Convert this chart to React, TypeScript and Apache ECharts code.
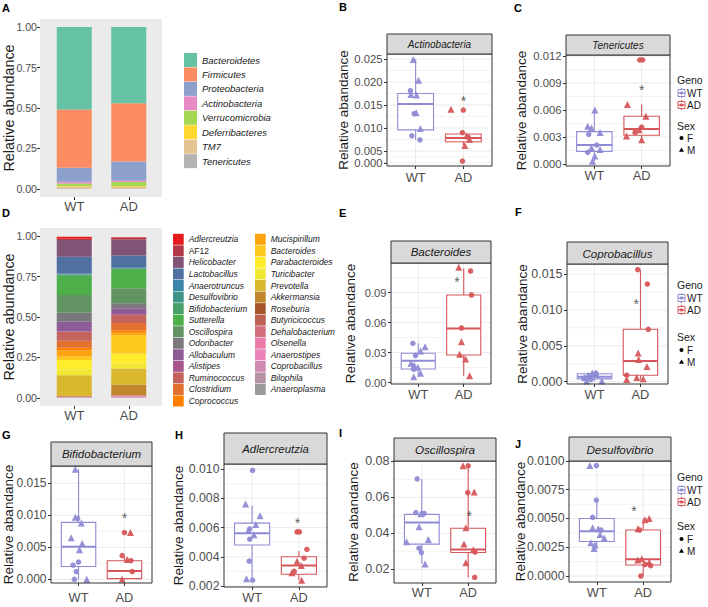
import { useEffect, useRef } from 'react';
import * as echarts from 'echarts';

const FONT = 'Liberation Sans, Arial, Helvetica, sans-serif';
const WT_COLOR = '#8E8BD5';
const AD_COLOR = '#D6565A';
const F = 0;
const M = 1;

const GROUPS = ['WT', 'AD'];
const STACK_TICKS = [0, 0.25, 0.5, 0.75, 1];

// ---------- A : phyla ----------
const PHYLA = ['Bacteroidetes', 'Firmicutes', 'Proteobacteria', 'Actinobacteria', 'Verrucomicrobia', 'Deferribacteres', 'TM7', 'Tenericutes'];
const PHYLA_WT = [0.51, 0.36, 0.085, 0.012, 0.015, 0.003, 0.012, 0.003];
const PHYLA_AD = [0.47, 0.36, 0.118, 0.01, 0.025, 0.005, 0.009, 0.003];
const PHYLA_COLORS = ['#66C2A5', '#FC8D62', '#8DA0CB', '#E78AC3', '#A6D854', '#FFD92F', '#E5C494', '#B3B3B3'];

// ---------- D : genera ----------
const GENERA = ['Adlercreutzia', 'AF12', 'Helicobacter', 'Lactobacillus', 'Anaerotruncus', 'Desulfovibrio', 'Bifidobacterium', 'Sutterella', 'Oscillospira', 'Odoribacter', 'Allobaculum', 'Alistipes', 'Ruminococcus', 'Clostridium', 'Coprococcus', 'Mucispirillum', 'Bacteroides', 'Parabacteroides', 'Turicibacter', 'Prevotella', 'Akkermansia', 'Roseburia', 'Butyricicoccus', 'Dehalobacterium', 'Olsenella', 'Anaerostipes', 'Coprobacillus', 'Bilophila', 'Anaeroplasma'];
const GENUS_WT = [0.012, 0.008, 0.103, 0.104, 0.004, 0.004, 0.006, 0.118, 0.110, 0.056, 0.058, 0.004, 0.056, 0.042, 0.016, 0.038, 0.022, 0.058, 0.037, 0.128, 0.002, 0.001, 0.001, 0.001, 0.003, 0.001, 0.0006, 0.001, 0.001];
const GENUS_AD = [0.004, 0.010, 0.099, 0.076, 0.004, 0.002, 0.002, 0.118, 0.093, 0.031, 0.037, 0.004, 0.050, 0.045, 0.016, 0.015, 0.113, 0.062, 0.031, 0.099, 0.066, 0.001, 0.001, 0.002, 0.003, 0.002, 0.004, 0.002, 0.001];
const GENUS_COLORS = ['#E41A1C', '#B33749', '#815375', '#5070A2', '#3A85A8', '#409389', '#47A169', '#4DAF4A', '#629363', '#78787D', '#8D5C96', '#A7558C', '#C4635D', '#E2712F', '#FF7F00', '#FFA40F', '#FFC81D', '#FFED2C', '#F2E731', '#D9B72E', '#BF862B', '#A65628', '#BD6253', '#D46F7E', '#EB7BA9', '#EA84BA', '#CF8BAF', '#B492A4', '#999999'];

// ---------- B : Actinobacteria ----------
const B_TICKS = [0, 0.005, 0.01, 0.015, 0.02, 0.025];
const B_WT = [[0.95, 0.0249, M], [1.06, 0.0204, M], [0.89, 0.0181, F], [0.90, 0.0173, M], [1.02, 0.0172, M], [1.01, 0.0133, M], [0.97, 0.0131, F], [1.10, 0.0099, M], [0.92, 0.0083, F], [1.09, 0.0074, F]];
const B_AD = [[1.74, 0.0141, M], [2.00, 0.0139, F], [1.98, 0.0090, F], [2.07, 0.0083, M], [2.13, 0.0075, M], [2.10, 0.0080, F], [2.03, 0.0062, M], [1.98, 0.0008, F]];
const B_BOX_WT = [0.0074, 0.0096, 0.0152, 0.0175, 0.0249];
const B_BOX_AD = [0.0062, 0.0070, 0.0078, 0.0087, 0.0090];
const B_STAR = [2.0, 0.0165];

// ---------- C : Tenericutes ----------
const C_TICKS = [0, 0.003, 0.006, 0.009, 0.012];
const C_WT = [[1.01, 0.0060, M], [0.86, 0.0042, M], [0.94, 0.0040, M], [1.12, 0.0035, M], [0.88, 0.0033, F], [1.05, 0.0021, F], [0.94, 0.0018, M], [1.12, 0.0016, M], [0.86, 0.0013, F], [1.01, 0.0009, M], [0.96, 0.0003, M]];
const C_AD = [[1.96, 0.01156, F], [2.02, 0.01156, F], [1.70, 0.0066, M], [2.09, 0.0053, M], [2.00, 0.0041, F], [1.95, 0.0038, M], [1.86, 0.0035, F], [1.68, 0.0031, M], [2.00, 0.0027, M]];
const C_BOX_WT = [0.0003, 0.0014, 0.0021, 0.0036, 0.0060];
const C_BOX_AD = [0.0027, 0.0032, 0.0039, 0.0053, 0.0066];
const C_STAR = [2.0, 0.0085];

// ---------- E : Bacteroides ----------
const E_TICKS = [0, 0.03, 0.06, 0.09];
const E_WT = [[0.88, 0.0392, F], [1.15, 0.0358, M], [1.05, 0.0315, M], [0.94, 0.0270, F], [0.84, 0.0192, M], [0.91, 0.0172, M], [0.99, 0.0152, M], [0.90, 0.0132, F], [1.05, 0.0092, M], [0.90, 0.0058, M]];
const E_AD = [[1.89, 0.1152, M], [2.15, 0.1115, F], [2.17, 0.0875, F], [1.95, 0.0545, F], [1.95, 0.0408, M], [1.91, 0.0282, M], [2.04, 0.0235, M], [2.13, 0.0068, M]];
const E_BOX_WT = [0.0058, 0.0135, 0.0218, 0.0292, 0.0392];
const E_BOX_AD = [0.0068, 0.0275, 0.0540, 0.0875, 0.1142];
const E_STAR = [1.85, 0.1035];

// ---------- F : Coprobacillus ----------
const F_TICKS = [0, 0.005, 0.01, 0.015];
const F_WT = [[0.95, 0.0012, M], [1.03, 0.0012, F], [0.86, 0.0009, M], [1.05, 0.0010, M], [0.90, 0.0008, F], [0.79, 0.0006, M], [0.92, 0.0003, F], [0.83, 0.0001, M], [1.16, 0.0001, M], [0.77, 0.0005, F]];
const F_AD = [[1.94, 0.0156, F], [2.15, 0.0136, F], [2.17, 0.0073, F], [1.95, 0.0040, M], [1.96, 0.0031, M], [2.14, 0.0021, M], [1.70, 0.0009, F], [1.92, 0.0006, M], [1.70, 0.0003, M], [2.06, 0.0004, M]];
const F_BOX_WT = [0.0001, 0.0004, 0.0007, 0.0011, 0.0012];
const F_BOX_AD = [0.0003, 0.0009, 0.0029, 0.0073, 0.0156];
const F_STAR = [1.91, 0.0112];

// ---------- G : Bifidobacterium ----------
const G_TICKS = [0, 0.005, 0.01, 0.015];
const G_WT = [[0.93, 0.0172, M], [0.93, 0.0097, M], [0.98, 0.0095, F], [1.06, 0.0088, M], [0.84, 0.0065, M], [1.08, 0.0056, M], [1.02, 0.0046, M], [1.00, 0.0027, F], [0.88, 0.0022, F], [0.95, 0.0012, F], [0.91, 0.0000, F], [1.18, 0.0000, M]];
const G_AD = [[2.00, 0.0073, F], [2.13, 0.0073, M], [1.95, 0.0037, F], [2.06, 0.0031, M], [2.14, 0.0029, F], [2.17, 0.0012, F], [1.95, 0.0000, M]];
const G_BOX_WT = [0.0, 0.0020, 0.0051, 0.0089, 0.0172];
const G_BOX_AD = [0.0, 0.0001, 0.0013, 0.0029, 0.0037];
const G_STAR = [2.0, 0.0100];

// ---------- H : Adlercreutzia ----------
const H_TICKS = [0.002, 0.004, 0.006, 0.008, 0.010];
const H_WT = [[1.01, 0.0099, F], [0.86, 0.0076, M], [1.17, 0.0068, M], [1.08, 0.0062, M], [0.95, 0.0059, F], [0.92, 0.0058, M], [1.04, 0.0055, M], [0.95, 0.0052, F], [0.94, 0.0037, F], [0.88, 0.0025, M], [1.01, 0.0024, F]];
const H_AD = [[1.96, 0.0057, F], [2.01, 0.0057, F], [2.17, 0.0045, F], [1.96, 0.0037, M], [2.11, 0.0039, F], [2.05, 0.0034, M], [1.90, 0.0030, F], [1.85, 0.0029, M], [2.06, 0.0024, M]];
const H_BOX_WT = [0.0024, 0.0048, 0.0056, 0.0063, 0.0075];
const H_BOX_AD = [0.0024, 0.0028, 0.0034, 0.0040, 0.0044];
const H_STAR = [1.97, 0.0065];

// ---------- I : Oscillospira ----------
const I_TICKS = [0.02, 0.04, 0.06, 0.08];
const I_WT = [[0.90, 0.0702, F], [0.87, 0.0515, F], [0.98, 0.0509, M], [1.05, 0.0510, F], [0.94, 0.0437, M], [0.67, 0.0353, M], [1.14, 0.0366, M], [0.94, 0.0317, F], [0.99, 0.0293, F], [1.07, 0.0229, M]];
const I_AD = [[1.89, 0.0775, M], [2.00, 0.0775, F], [1.99, 0.0626, F], [2.13, 0.0630, M], [1.95, 0.0431, M], [1.91, 0.0341, M], [2.11, 0.0308, M], [2.15, 0.0296, F], [1.95, 0.0237, M], [2.14, 0.0155, F]];
const I_BOX_WT = [0.0229, 0.0340, 0.0460, 0.0505, 0.0702];
const I_BOX_AD = [0.0155, 0.0293, 0.0310, 0.0428, 0.0775];
const I_STAR = [2.02, 0.0515];

// ---------- J : Desulfovibrio ----------
const J_TICKS = [0, 0.0025, 0.005, 0.0075, 0.01];
const J_WT = [[0.85, 0.0096, M], [0.99, 0.0096, F], [0.99, 0.0066, F], [0.91, 0.0051, F], [0.91, 0.0042, M], [1.03, 0.0041, M], [1.09, 0.0040, F], [1.07, 0.0036, M], [1.16, 0.0033, M], [0.87, 0.0029, M], [0.96, 0.0027, M], [0.94, 0.0024, M]];
const J_AD = [[2.04, 0.0049, M], [2.13, 0.0050, M], [1.89, 0.0041, M], [1.92, 0.0040, F], [1.97, 0.0015, M], [2.13, 0.0012, M], [1.88, 0.0014, M], [2.16, 0.0009, F], [2.04, 0.0010, F], [1.95, 0.0000, F]];
const J_BOX_WT = [0.0024, 0.0030, 0.0039, 0.0050, 0.0066];
const J_BOX_AD = [0.0, 0.00095, 0.00145, 0.0040, 0.0050];
const J_STAR = [1.80, 0.0059];

// Axis transform for panel B (bottom segment compressed as in the reference)
const B_SQUEEZE = 12 / 23;
const bFwd = (v: number) => (v >= 0.005 ? v : 0.005 - (0.005 - v) * B_SQUEEZE);
const bInv = (t: number) => (t >= 0.005 ? t : 0.005 - (0.005 - t) / B_SQUEEZE);
const ident = (v: number) => v;

const PANELS: any[] = [
  { letter: 'B', lx: 339, ly: 7, rect: [387, 54, 105, 112], stripTop: 34, title: 'Actinobacteria', titleSize: 10, yTitleX: 343, tickFont: 11.3, xMargin: 5, yMin: 0.001739, yMax: 0.026087, ticks: B_TICKS, dec: 3, wt: B_WT, ad: B_AD, boxWt: B_BOX_WT, boxAd: B_BOX_AD, star: B_STAR, fwd: bFwd, inv: bInv },
  { letter: 'C', lx: 514, ly: 7.5, rect: [566, 55, 104, 111], stripTop: 35, title: 'Tenericutes', titleSize: 10, yTitleX: 521.7, tickFont: 11.3, xMargin: 3, yMin: -0.000222, yMax: 0.012111, ticks: C_TICKS, dec: 3, wt: C_WT, ad: C_AD, boxWt: C_BOX_WT, boxAd: C_BOX_AD, star: C_STAR, legend: [80, 93, 105, 126, 138, 150] },
  { letter: 'E', lx: 339, ly: 213, rect: [391, 263, 100, 121], stripTop: 241, title: 'Bacteroides', titleSize: 11.5, yTitleX: 350, tickFont: 11.2, xMargin: 4, yMin: -0.0015, yMax: 0.1195, ticks: E_TICKS, dec: 2, wt: E_WT, ad: E_AD, boxWt: E_BOX_WT, boxAd: E_BOX_AD, star: E_STAR },
  { letter: 'F', lx: 515, ly: 212, rect: [567, 264, 101, 120], stripTop: 242, title: 'Coprobacillus', titleSize: 11.6, yTitleX: 522, tickFont: 12.5, xMargin: 4, yMin: -0.00032, yMax: 0.016393, ticks: F_TICKS, dec: 3, wt: F_WT, ad: F_AD, boxWt: F_BOX_WT, boxAd: F_BOX_AD, star: F_STAR, legend: [285, 298, 310, 337, 350, 362] },
  { letter: 'G', lx: 2, ly: 435, rect: [51, 466, 101, 117], stripTop: 442, title: 'Bifidobacterium', titleSize: 11.5, yTitleX: 8.5, tickFont: 12, xMargin: 8, yMin: -0.000578, yMax: 0.0177, ticks: G_TICKS, dec: 3, wt: G_WT, ad: G_AD, boxWt: G_BOX_WT, boxAd: G_BOX_AD, star: G_STAR },
  { letter: 'H', lx: 175, ly: 435, rect: [224, 464, 103, 123], stripTop: 433, title: 'Adlercreutzia', titleSize: 11.4, yTitleX: 178, tickFont: 12.3, xMargin: 3.5, yMin: 0.001932, yMax: 0.010342, ticks: H_TICKS, dec: 3, wt: H_WT, ad: H_AD, boxWt: H_BOX_WT, boxAd: H_BOX_AD, star: H_STAR },
  { letter: 'I', lx: 339, ly: 433, rect: [394, 461, 102, 122], stripTop: 438, title: 'Oscillospira', titleSize: 11.6, yTitleX: 353.3, tickFont: 12.5, xMargin: 3, yMin: 0.012389, yMax: 0.080167, ticks: I_TICKS, dec: 2, wt: I_WT, ad: I_AD, boxWt: I_BOX_WT, boxAd: I_BOX_AD, star: I_STAR },
  { letter: 'J', lx: 515, ly: 444, rect: [569, 461, 102, 121], stripTop: 437, title: 'Desulfovibrio', titleSize: 11.6, yTitleX: 520, tickFont: 12.3, xMargin: 4, yMin: -0.000522, yMax: 0.01, ticks: J_TICKS, dec: 4, wt: J_WT, ad: J_AD, boxWt: J_BOX_WT, boxAd: J_BOX_AD, star: J_STAR, legend: [477, 490, 502, 526, 539, 551] },
];

const txt = (t: string, x: number, y: number, size: number, extra: any = {}) => ({
  type: 'text', x, y, z: 20,
  style: { text: t, fontSize: size, fontFamily: FONT, fill: '#1a1a1a', align: 'left', verticalAlign: 'middle', ...extra },
});

function genoLegend(x: number, ys: number[]) {
  const [gy, wy, ay, sy, fy, my] = ys;
  const els: any[] = [];
  els.push(txt('Geno', x, gy, 10.5));
  ([[wy, WT_COLOR, 'WT'], [ay, AD_COLOR, 'AD']] as any[]).forEach(([yy, c, label]) => {
    els.push({ type: 'line', z: 20, shape: { x1: x + 4.5, y1: yy - 5, x2: x + 4.5, y2: yy + 5 }, style: { stroke: c, lineWidth: 1 } });
    els.push({ type: 'rect', z: 21, shape: { x: x + 1, y: yy - 3.5, width: 7, height: 7 }, style: { fill: '#fff', stroke: c, lineWidth: 1 } });
    els.push({ type: 'line', z: 22, shape: { x1: x + 1, y1: yy, x2: x + 8, y2: yy }, style: { stroke: c, lineWidth: 1.2 } });
    els.push({ type: 'circle', z: 23, shape: { cx: x + 4.5, cy: yy, r: 1.6 }, style: { fill: c } });
    els.push(txt(label, x + 10, yy, 10));
  });
  els.push(txt('Sex', x, sy, 10.5));
  els.push({ type: 'circle', z: 20, shape: { cx: x + 4.5, cy: fy, r: 2 }, style: { fill: '#000' } });
  els.push(txt('F', x + 10, fy, 10));
  els.push({ type: 'polygon', z: 20, shape: { points: [[x + 4.5, my - 2.6], [x + 7, my + 1.8], [x + 2, my + 1.8]] }, style: { fill: '#000' } });
  els.push(txt('M', x + 10, my, 10));
  return els;
}

function buildOption() {
  const grid: any[] = [];
  const xAxis: any[] = [];
  const yAxis: any[] = [];
  const series: any[] = [];
  const graphic: any[] = [];

  // ----- stacked panels A (grid 0) and D (grid 1) -----
  const stackPanels = [
    { top: 19, letter: 'A', ly: 8 },
    { top: 228, letter: 'D', ly: 213 },
  ];
  stackPanels.forEach((p, gi) => {
    grid.push({ left: 47, top: p.top, width: 109, height: 178, show: false, containLabel: false, outerBoundsMode: 'none' });
    xAxis.push({
      type: 'category', gridIndex: gi, data: GROUPS, position: 'bottom',
      axisLine: { show: false, onZero: false },
      axisTick: { show: true, alignWithLabel: true, length: 3, lineStyle: { color: '#333' } },
      axisLabel: { fontSize: 13, color: '#4D4D4D', margin: 3, fontFamily: FONT },
      splitLine: { show: false },
    });
    yAxis.push({
      type: 'value', gridIndex: gi, min: -0.05, max: 1.05, offset: 7, position: 'left',
      axisLine: { show: false, onZero: false }, splitLine: { show: false },
      axisTick: { show: true, length: 3, customValues: STACK_TICKS, lineStyle: { color: '#333' } },
      axisLabel: { customValues: STACK_TICKS, formatter: (v: number) => v.toFixed(2), fontSize: 10.6, color: '#4D4D4D', margin: 3, fontFamily: FONT },
    });
    graphic.push({ type: 'rect', z: 0, shape: { x: 40, y: p.top, width: 122, height: 178 }, style: { fill: '#EBEBEB' } });
    graphic.push({ type: 'text', x: 9, y: p.top + 89, rotation: Math.PI / 2, z: 20, style: { text: 'Relative abundance', fontSize: 14.4, fontFamily: FONT, fill: '#1a1a1a', align: 'center', verticalAlign: 'middle' } });
    graphic.push(txt(p.letter, 2, p.ly, 11, { fontWeight: 'bold', fill: '#000' }));
  });

  PHYLA.map((name, i) => ({
    type: 'bar', name, stack: 'phyla', xAxisIndex: 0, yAxisIndex: 0, barWidth: 35, silent: true,
    data: [PHYLA_WT[i], PHYLA_AD[i]], itemStyle: { color: PHYLA_COLORS[i] },
  })).reverse().forEach((s) => series.push(s));

  GENERA.map((name, i) => ({
    type: 'bar', name, stack: 'genera', xAxisIndex: 1, yAxisIndex: 1, barWidth: 35, silent: true,
    data: [GENUS_WT[i], GENUS_AD[i]], itemStyle: { color: GENUS_COLORS[i] },
  })).reverse().forEach((s) => series.push(s));

  const legendText = { fontSize: 9.5, fontStyle: 'italic', color: '#1a1a1a', fontFamily: FONT };
  const legendTextD = { fontSize: 8.5, fontStyle: 'italic', color: '#1a1a1a', fontFamily: FONT };
  const dItem = (n: string) => (n === 'AF12' ? { name: n, textStyle: { fontStyle: 'normal' } } : { name: n });
  const legend = [
    { orient: 'vertical', left: 184, top: 53, padding: 0, itemWidth: 13, itemHeight: 14, itemGap: 0.45, icon: 'rect', selectedMode: false, data: PHYLA, textStyle: legendText },
    { orient: 'vertical', left: 173, top: 233.8, padding: 0, itemWidth: 10.7, itemHeight: 11, itemGap: 0.55, icon: 'rect', selectedMode: false, data: GENERA.slice(0, 15).map(dItem), textStyle: legendTextD },
    { orient: 'vertical', left: 255, top: 233.8, padding: 0, itemWidth: 10.7, itemHeight: 11, itemGap: 0.55, icon: 'rect', selectedMode: false, data: GENERA.slice(15).map(dItem), textStyle: legendTextD },
  ];

  // ----- box panels -----
  PANELS.forEach((cfg, k) => {
    const gi = k + 2;
    const fwd = cfg.fwd || ident;
    const inv = cfg.inv || ident;
    const [left, top, width, height] = cfg.rect;
    const tt = cfg.ticks.map(fwd);
    const minors: number[] = [];
    for (let i = 0; i < tt.length - 1; i++) minors.push((tt[i] + tt[i + 1]) / 2);
    const lo = tt[0] - (tt[1] - tt[0]) / 2;
    if (lo > cfg.yMin) minors.push(lo);
    const n = tt.length;
    const hi = tt[n - 1] + (tt[n - 1] - tt[n - 2]) / 2;
    if (hi < cfg.yMax) minors.push(hi);

    grid.push({ left, top, width, height, show: false, containLabel: false, outerBoundsMode: 'none' });
    xAxis.push({
      type: 'value', gridIndex: gi, min: 0.4, max: 2.6, position: 'bottom',
      axisLine: { show: false, onZero: false }, splitLine: { show: false },
      axisTick: { show: true, customValues: [1, 2], length: 3, lineStyle: { color: '#333' } },
      axisLabel: { show: true, customValues: [1, 2], formatter: (v: number) => (v < 1.5 ? GROUPS[0] : GROUPS[1]), fontSize: 12.8, color: '#4D4D4D', margin: cfg.xMargin, fontFamily: FONT },
    });
    yAxis.push({
      type: 'value', gridIndex: gi, min: cfg.yMin, max: cfg.yMax, position: 'left',
      axisLine: { show: false, onZero: false }, splitLine: { show: false },
      axisTick: { show: true, customValues: tt, length: 3, lineStyle: { color: '#333' } },
      axisLabel: {
        customValues: tt,
        formatter: (v: number) => { const r = inv(v); return (Math.abs(r) < 1e-9 ? 0 : r).toFixed(cfg.dec); },
        fontSize: cfg.tickFont, color: '#4D4D4D', margin: 4.5, fontFamily: FONT,
      },
    });

    // grid lines
    series.push({
      type: 'custom', xAxisIndex: gi, yAxisIndex: gi, z: 1, silent: true,
      data: [...tt.map((v: number) => [v, 0]), ...minors.map((v) => [v, 1]), [1, 2], [2, 2]],
      renderItem: (params: any, api: any) => {
        const cs = params.coordSys;
        const v = api.value(0);
        const kind = api.value(1);
        if (kind === 2) {
          const x = api.coord([v, cfg.yMax])[0];
          return { type: 'line', shape: { x1: x, y1: cs.y, x2: x, y2: cs.y + cs.height }, style: { stroke: '#EBEBEB', lineWidth: 1 } };
        }
        const y = api.coord([1.5, v])[1];
        return { type: 'line', shape: { x1: cs.x, y1: y, x2: cs.x + cs.width, y2: y }, style: { stroke: '#EBEBEB', lineWidth: kind === 0 ? 1 : 0.6 } };
      },
    });

    // boxes
    series.push({
      type: 'custom', xAxisIndex: gi, yAxisIndex: gi, z: 2, silent: true,
      data: [[1, ...cfg.boxWt.map(fwd)], [2, ...cfg.boxAd.map(fwd)]],
      renderItem: (params: any, api: any) => {
        const x = api.value(0);
        const c = x < 1.5 ? WT_COLOR : AD_COLOR;
        const p = [1, 2, 3, 4, 5].map((i) => api.coord([x, api.value(i)]));
        const w = api.size([0.75, 0], [x, api.value(3)])[0];
        const cx = p[0][0];
        return {
          type: 'group',
          children: [
            { type: 'line', shape: { x1: cx, y1: p[4][1], x2: cx, y2: p[3][1] }, style: { stroke: c, lineWidth: 1.1 } },
            { type: 'line', shape: { x1: cx, y1: p[1][1], x2: cx, y2: p[0][1] }, style: { stroke: c, lineWidth: 1.1 } },
            { type: 'rect', shape: { x: cx - w / 2, y: p[3][1], width: w, height: p[1][1] - p[3][1] }, style: { fill: '#fff', stroke: c, lineWidth: 1.1 } },
            { type: 'line', shape: { x1: cx - w / 2, y1: p[2][1], x2: cx + w / 2, y2: p[2][1] }, style: { stroke: c, lineWidth: 2 } },
          ],
        };
      },
    });

    const sym = (v: any) => (v[2] === F ? 'circle' : 'triangle');
    const symSize = (v: any) => (v[2] === F ? 5.5 : 7);
    [[cfg.wt, WT_COLOR], [cfg.ad, AD_COLOR]].forEach(([pts, color]: any) => {
      series.push({
        type: 'scatter', xAxisIndex: gi, yAxisIndex: gi, z: 3, silent: true,
        data: pts.map((p: number[]) => [p[0], fwd(p[1]), p[2]]),
        symbol: sym, symbolSize: symSize,
        itemStyle: { color, opacity: 0.95 },
      });
    });

    series.push({
      type: 'scatter', xAxisIndex: gi, yAxisIndex: gi, z: 4, silent: true,
      data: [[cfg.star[0], fwd(cfg.star[1])]], symbolSize: 1,
      itemStyle: { color: 'rgba(0,0,0,0)' },
      label: { show: true, formatter: '*', position: 'inside', fontSize: 14, color: '#333', offset: [0, 3], fontFamily: FONT },
    });

    graphic.push({ type: 'rect', z: 15, shape: { x: left, y: top, width, height }, style: { fill: 'none', stroke: '#333', lineWidth: 1 } });
    graphic.push({ type: 'rect', z: 15, shape: { x: left, y: cfg.stripTop, width, height: top - cfg.stripTop }, style: { fill: '#D9D9D9', stroke: '#333', lineWidth: 1 } });
    graphic.push({ type: 'text', z: 16, x: left + width / 2, y: cfg.stripTop + (top - cfg.stripTop) / 2, style: { text: cfg.title, fontSize: cfg.titleSize, fontStyle: 'italic', fontFamily: FONT, fill: '#1a1a1a', align: 'center', verticalAlign: 'middle' } });
    graphic.push({ type: 'text', x: cfg.yTitleX, y: top + height / 2, rotation: Math.PI / 2, z: 20, style: { text: 'Relative abandance', fontSize: 13.5, fontFamily: FONT, fill: '#1a1a1a', align: 'center', verticalAlign: 'middle' } });
    graphic.push(txt(cfg.letter, cfg.lx, cfg.ly, 11, { fontWeight: 'bold', fill: '#000' }));
    if (cfg.legend) genoLegend(677, cfg.legend).forEach((e) => graphic.push(e));
  });

  return {
    animation: false,
    backgroundColor: '#fff',
    textStyle: { fontFamily: FONT },
    grid, xAxis, yAxis, legend, series,
    graphic: { elements: graphic },
  };
}

export default function App() {
  const ref = useRef<HTMLDivElement>(null);
  useEffect(() => {
    if (!ref.current) return;
    const chart = echarts.init(ref.current, undefined, { renderer: 'svg' });
    chart.setOption(buildOption() as any);
    return () => chart.dispose();
  }, []);
  return <div ref={ref} style={{ position: 'fixed', left: 0, top: 0, width: 708, height: 607 }} />;
}
